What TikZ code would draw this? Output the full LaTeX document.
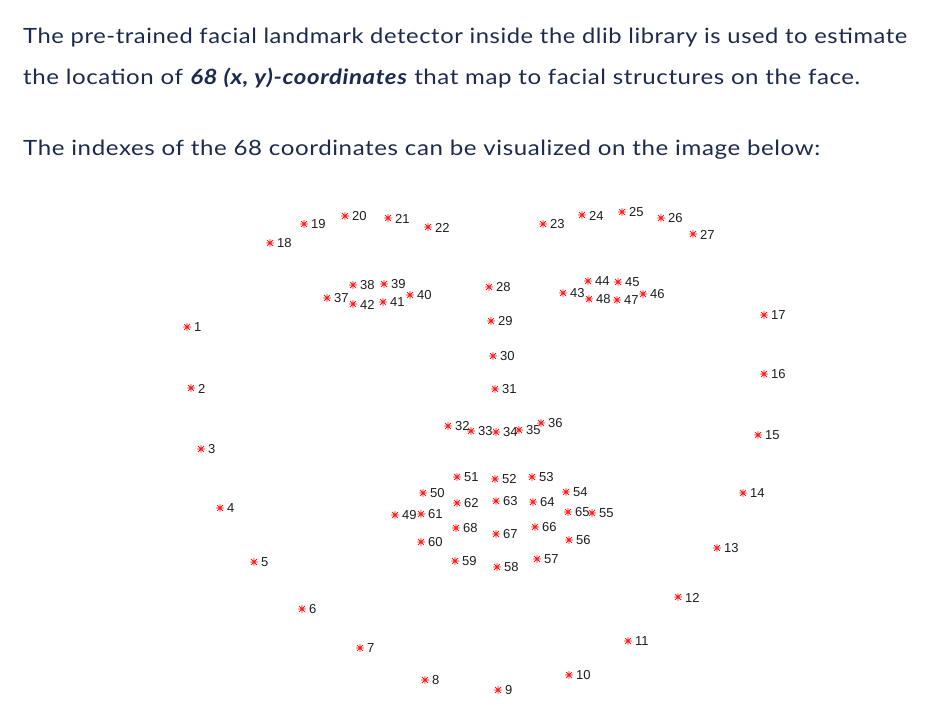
\documentclass[tikz,border=0pt]{standalone}
\usepackage{fontspec}
\usepackage{graphicx}
\setmainfont{Lato}[LetterSpace=2.5]
\newfontfamily\lblfont{Liberation Sans}
\definecolor{navy}{HTML}{1B2A4E}
\definecolor{starred}{HTML}{FF1A1A}
\definecolor{lblgray}{HTML}{1E1E1E}
\begin{document}
\begin{tikzpicture}[x=1pt,y=-1pt]
\tikzset{
  aster/.pic={\draw[starred,line width=0.75pt]
     (-4,0)--(4,0) (0,-4)--(0,4)
     (-2.9,-2.9)--(2.9,2.9) (-2.9,2.9)--(2.9,-2.9);},
  lbl/.style={font=\lblfont\fontsize{13}{13}\selectfont, text=lblgray, inner sep=0pt, anchor=west, xshift=7pt, yshift=-0.5pt},
  para/.style={font=\fontsize{21}{24}\selectfont, text=navy, inner sep=0pt, anchor=base west}
}
\path[use as bounding box, fill=white] (0,0) rectangle (934,707);
\node[para] (t1) at (23,43) {\resizebox{884pt}{\height}{The pre-trained facial landmark detector inside the dlib library is used to estimate}};
\node[para] (t2) at (23,84) {\resizebox{837pt}{\height}{the location of \textbf{\textit{68 (x, y)-coordinates}} that map to facial structures on the face.}};
\node[para] (t3) at (23,155) {\resizebox{797pt}{\height}{The indexes of the 68 coordinates can be visualized on the image below:}};
\foreach \n/\x/\y in {
 1/187/327, 2/191/388, 3/201/449, 4/220/508, 5/254/562, 6/302/609, 7/360/648, 8/425/680,
 9/498/690, 10/569/675, 11/628/641, 12/678/597, 13/717/548, 14/743/493, 15/758/435, 16/764/374, 17/764/315,
 18/270/243, 19/304/224, 20/345/216, 21/388/218, 22/428/227,
 23/543/224, 24/582/215, 25/622/212, 26/661/218, 27/693/234,
 28/489/287, 29/491/321, 30/493/356, 31/495/389,
 32/448/426, 33/471/431, 34/496/432, 35/519/430, 36/541/423,
 37/327/298, 38/353/285, 39/384/284, 40/410/295, 41/383/302, 42/353/304,
 43/563/293, 44/588/281, 45/618/282, 46/643/294, 47/617/300, 48/589/299,
 49/395/515, 50/423/493, 51/457/477, 52/495/479, 53/532/477, 54/566/492, 55/592/513,
 56/569/540, 57/537/559, 58/497/567, 59/455/561, 60/421/542,
 61/421/514, 62/457/503, 63/496/501, 64/533/502, 65/568/512, 66/535/527, 67/496/534, 68/456/528}
{
  \coordinate (p\n) at (\x,\y);
  \pic at (p\n) {aster};
  \node[lbl] (l\n) at (p\n) {\n};
}
\end{tikzpicture}
\end{document}
